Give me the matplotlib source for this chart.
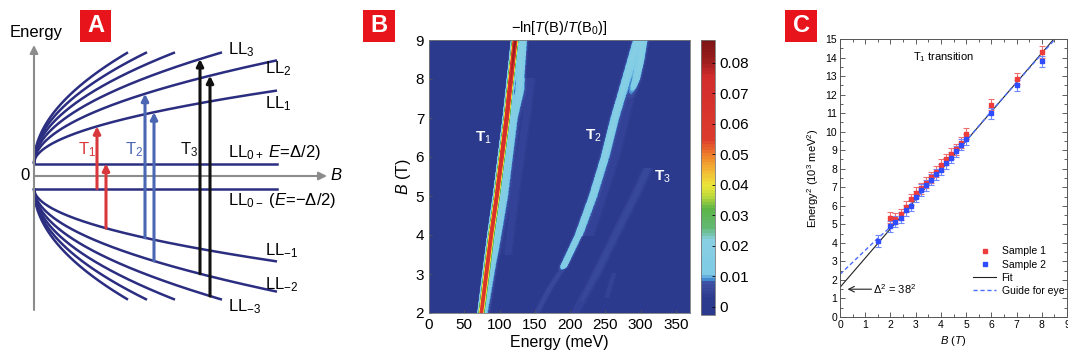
import numpy as np
import matplotlib
matplotlib.use("Agg")
import matplotlib.pyplot as plt
from matplotlib.colors import LinearSegmentedColormap, Normalize
from matplotlib.patches import Rectangle
from matplotlib.lines import Line2D

plt.rcParams['font.family'] = ['Liberation Sans', 'DejaVu Sans']
plt.rcParams['mathtext.fontset'] = 'custom'
plt.rcParams['mathtext.rm'] = 'Liberation Sans'
plt.rcParams['mathtext.it'] = 'Liberation Sans:italic'
plt.rcParams['mathtext.bf'] = 'Liberation Sans:bold'

W, H = 1068, 361

# ---------------- Panel A data (schematic, pixel-like units) ----------------
ll_index = [1, 2, 3, 4, 5, 6]
ll_B_end = [243, 243, 188, 141, 113, 94]
ll_half_gap = 12.5
ll_scale = 4.68
ll0_B_end = 243
# transitions: (B, lower (n, sign), upper (n, sign), colour)
trans_B = [63, 72, 111, 120, 166, 176]
trans_low = [(0, -1), (1, -1), (1, -1), (2, -1), (2, -1), (3, -1)]
trans_up = [(1, 1), (0, 1), (2, 1), (1, 1), (3, 1), (2, 1)]
trans_col = ['#d8383c', '#d8383c', '#4b67b3', '#4b67b3', '#111111', '#111111']

# ---------------- Panel B data ----------------
t1_B = [2, 3, 4, 5, 6, 7, 8, 9]
t1_E = [74, 81, 88, 96, 103, 110, 116, 122]
t1_amp = [0.056, 0.060, 0.063, 0.066, 0.070, 0.073, 0.077, 0.082]
sh1_B = [2, 3, 4, 5, 6, 7, 7.7, 8.5, 9]
sh1_E = [80, 88, 97, 106, 113, 120, 128, 131, 133]
sh1_amp = [0.010, 0.013, 0.015, 0.015, 0.015, 0.015, 0.017, 0.018, 0.018]
f1_B = [3.5, 5, 7, 8]
f1_E = [112, 122, 138, 145]
f1_amp = [0.005, 0.005, 0.005, 0.005]
t2_B = [2.0, 2.6, 3.1, 3.2, 4, 5, 6, 7, 8, 9]
t2_E = [153, 170, 188, 191, 212, 232, 249, 263, 279, 295]
t2_amp = [0.006, 0.006, 0.006, 0.015, 0.016, 0.016, 0.017, 0.017, 0.017, 0.017]
t2b_B = [7.5, 8, 8.5, 9]
t2b_E = [284, 294, 300, 304]
t2b_amp = [0.0, 0.012, 0.013, 0.013]
f2_B = [4, 6, 8, 9]
f2_E = [228, 264, 292, 305]
f2_amp = [0.005, 0.005, 0.005, 0.005]
t3_B = [2.0, 3.0, 4.1, 5.0, 5.7]
t3_E = [207, 237, 267, 292, 310]
t3_amp = [0.005, 0.006, 0.006, 0.006, 0.006]
t3b_B = [2.4, 3.0]
t3b_E = [252, 262]
t3b_amp = [0.005, 0.005]
cbar_ticks = [0, 0.01, 0.02, 0.03, 0.04, 0.05, 0.06, 0.07, 0.08]
cbar_labels = ['0', '0.01', '0.02', '0.03', '0.04', '0.05', '0.06', '0.07', '0.08']

# ---------------- Panel C data ----------------
s1_B = [2.0, 2.2, 2.4, 2.6, 2.8, 3.0, 3.2, 3.4, 3.6, 3.8, 4.0, 4.2, 4.4, 4.6, 4.8, 5.0, 6.0, 7.0, 8.0]
s1_E2 = [5.35, 5.3, 5.55, 5.95, 6.35, 6.7, 6.95, 7.25, 7.55, 7.85, 8.2, 8.5, 8.8, 9.05, 9.4, 9.9, 11.45, 12.85, 14.3]
s1_err = [0.3] * len(s1_B)
s2_B = [1.5, 2.0, 2.2, 2.4, 2.6, 2.8, 3.0, 3.2, 3.4, 3.6, 3.8, 4.0, 4.2, 4.4, 4.6, 4.8, 5.0, 6.0, 7.0, 8.0]
s2_E2 = [4.1, 4.9, 5.15, 5.35, 5.75, 6.0, 6.5, 6.85, 7.1, 7.4, 7.7, 7.95, 8.3, 8.6, 8.95, 9.3, 9.6, 11.0, 12.5, 13.8]
s2_err = [0.3] * len(s2_B)
fit_intercept = 1.6
fit_slope = 1.58
fit_B = [0, 9]
guide_B = [0, 0.5, 1.0, 1.5, 2.0, 3, 4, 5, 6, 7, 8, 8.6]
guide_E2 = [2.3, 2.95, 3.6, 4.25, 4.85, 6.4, 7.95, 9.5, 11.1, 12.65, 14.2, 15.1]

fig = plt.figure(figsize=(W / 100, H / 100), dpi=100)


def px_axes(x0, y0, x1, y1, **kw):
    return fig.add_axes([x0 / W, 1 - y1 / H, (x1 - x0) / W, (y1 - y0) / H], **kw)


def label_box(x0, y0, x1, y1, letter):
    fig.add_artist(Rectangle((x0 / W, 1 - y1 / H), (x1 - x0) / W, (y1 - y0) / H,
                             transform=fig.transFigure, color='#e8141c', lw=0))
    fig.text((x0 + x1) / 2 / W, 1 - (y0 + y1) / 2 / H, letter, color='white',
             fontsize=17, fontweight='bold', ha='center', va='center')


# ================= Panel A =================
axA = px_axes(0, 0, 360, 361)
axA.set_xlim(-34, 326)
axA.set_ylim(-185, 176)
axA.axis('off')
navy = '#2b2e80'
grey = '#8c8c8c'


def level_E(n, sign, B):
    return sign * (ll_half_gap + ll_scale * np.sqrt(n * np.asarray(B, dtype=float)))


for n, bend in zip(ll_index, ll_B_end):
    Bs = np.linspace(0, bend, 200)
    axA.plot(Bs, level_E(n, 1, Bs), color=navy, lw=1.8, solid_capstyle='butt')
    axA.plot(Bs, level_E(n, -1, Bs), color=navy, lw=1.8, solid_capstyle='butt')
for s in (1, -1):
    axA.plot([0, ll0_B_end], [s * ll_half_gap, s * ll_half_gap], color=navy, lw=1.8)

axA.annotate('', xy=(0, 131), xytext=(0, -134),
             arrowprops=dict(arrowstyle='-|>', color=grey, lw=1.5, mutation_scale=12,
                             shrinkA=0, shrinkB=0))
axA.annotate('', xy=(293, 0), xytext=(0, 0),
             arrowprops=dict(arrowstyle='-|>', color=grey, lw=1.5, mutation_scale=12,
                             shrinkA=0, shrinkB=0))
for B, lo, up, c in zip(trans_B, trans_low, trans_up, trans_col):
    e0 = float(level_E(lo[0], lo[1], B))
    e1 = float(level_E(up[0], up[1], B))
    axA.annotate('', xy=(B, e1), xytext=(B, e0),
                 arrowprops=dict(arrowstyle='-|>', color=c, lw=2.2, mutation_scale=10,
                                 shrinkA=0, shrinkB=0))

fsA = 12
axA.text(2, 143, 'Energy', fontsize=fsA, ha='center', va='center')
axA.text(-9, 0, '0', fontsize=fsA, ha='center', va='center')
axA.text(296, 0, 'B', fontsize=fsA, ha='left', va='center', style='italic')
axA.text(44, 26, 'T$_1$', color='#d8383c', fontsize=fsA, ha='left', va='center')
axA.text(91, 26, 'T$_2$', color='#4b67b3', fontsize=fsA, ha='left', va='center')
axA.text(146, 26, 'T$_3$', color='#111111', fontsize=fsA, ha='left', va='center')
axA.text(194, 126, 'LL$_3$', fontsize=fsA, ha='left', va='center')
axA.text(231, 107, 'LL$_2$', fontsize=fsA, ha='left', va='center')
axA.text(231, 72, 'LL$_1$', fontsize=fsA, ha='left', va='center')
axA.text(194, 24, 'LL$_{0+}$ $E$=Δ/2)', fontsize=fsA, ha='left', va='center')
axA.text(194, -24, 'LL$_{0-}$ ($E$=−Δ/2)', fontsize=fsA, ha='left', va='center')
axA.text(231, -75, 'LL$_{-1}$', fontsize=fsA, ha='left', va='center')
axA.text(231, -109, 'LL$_{-2}$', fontsize=fsA, ha='left', va='center')
axA.text(194, -131, 'LL$_{-3}$', fontsize=fsA, ha='left', va='center')
label_box(80, 10, 111, 42, 'A')

# ================= Panel B =================
axB = px_axes(429, 40, 690, 313)
Eg = np.linspace(0, 370, 741)
Bg = np.linspace(2, 9, 281)
EE, BB = np.meshgrid(Eg, Bg)


def ridge(tb, te, ta, sigma):
    tb = np.asarray(tb, float)
    c = np.interp(BB, tb, te)
    a = np.interp(BB, tb, ta)
    a = np.where((BB >= tb.min()) & (BB <= tb.max()), a, 0.0)
    return a * np.exp(-(EE - c) ** 2 / (2 * sigma ** 2))


Z = (ridge(t1_B, t1_E, t1_amp, 2.6) + ridge(sh1_B, sh1_E, sh1_amp, 4.5)
     + ridge(f1_B, f1_E, f1_amp, 7.0) + ridge(t2_B, t2_E, t2_amp, 4.2)
     + ridge(t2b_B, t2b_E, t2b_amp, 3.5) + ridge(f2_B, f2_E, f2_amp, 8.0)
     + ridge(t3_B, t3_E, t3_amp, 7.0) + ridge(t3b_B, t3b_E, t3b_amp, 4.0))

vmin, vmax = -0.0027, 0.0875
stops = [(-0.0027, '#2c3a8e'), (0.003, '#2c3a8e'), (0.0075, '#3d4fa2'),
         (0.0085, '#3f86d0'), (0.0105, '#7fcbe6'), (0.022, '#88cfe2'),
         (0.026, '#63b870'), (0.032, '#5db548'), (0.036, '#b8d83a'),
         (0.040, '#ece53a'), (0.045, '#f3b233'), (0.050, '#ee7d2c'),
         (0.055, '#dc3a2d'), (0.076, '#d22c2c'), (0.080, '#a01e1e'),
         (0.0875, '#7c1515')]
cmap = LinearSegmentedColormap.from_list(
    'hm', [((v - vmin) / (vmax - vmin), c) for v, c in stops])
levels = np.linspace(vmin, vmax, 91)
cf = axB.contourf(Eg, Bg, Z, levels=levels, cmap=cmap,
                  norm=Normalize(vmin, vmax), extend='neither')
axB.set_xlim(0, 370)
axB.set_ylim(2, 9)
axB.set_xticks([0, 50, 100, 150, 200, 250, 300, 350])
axB.set_yticks([2, 3, 4, 5, 6, 7, 8, 9])
axB.tick_params(labelsize=11, direction='in', length=2.5, width=0.6, color='#555555')
axB.set_xlabel('Energy (meV)', fontsize=11.5, labelpad=2)
axB.set_ylabel('$B$ (T)', fontsize=11.5, labelpad=2)
axB.set_title(r'$-$ln[$T$(B)/$T$(B$_0$)]', fontsize=10.5, pad=6)
for sp in axB.spines.values():
    sp.set_linewidth(0.6)
    sp.set_color('#777777')
axB.text(77, 6.5, 'T$_1$', color='white', fontsize=11, fontweight='bold', ha='center', va='center')
axB.text(233, 6.55, 'T$_2$', color='white', fontsize=11, fontweight='bold', ha='center', va='center')
axB.text(331, 5.5, 'T$_3$', color='white', fontsize=11, fontweight='bold', ha='center', va='center')
label_box(363, 10, 395, 42, 'B')

cax = px_axes(701, 40, 715, 315)
cb = fig.colorbar(cf, cax=cax, ticks=cbar_ticks)
cb.ax.set_yticklabels(cbar_labels)
cb.ax.tick_params(labelsize=11, direction='in', length=2, width=0.6)
cb.outline.set_linewidth(0.6)
cb.outline.set_edgecolor('#777777')

# ================= Panel C =================
axC = px_axes(840, 39, 1067, 317)
red = '#ee3b3b'
blue = '#2f4cff'
axC.plot(fit_B, [fit_intercept + fit_slope * b for b in fit_B], color='#222222', lw=0.8, zorder=2)
axC.plot(guide_B, guide_E2, color='#4a6cff', lw=1.0, ls=(0, (3, 2)), zorder=2)
axC.errorbar(s1_B, s1_E2, yerr=s1_err, fmt='s', ms=2.2, color=red, ecolor='#f07070',
             elinewidth=0.8, capsize=2, capthick=0.8, zorder=3)
axC.errorbar(s2_B, s2_E2, yerr=s2_err, fmt='s', ms=2.2, color=blue, ecolor='#7088ff',
             elinewidth=0.8, capsize=2, capthick=0.8, zorder=3)
axC.set_xlim(0, 9)
axC.set_ylim(0, 15)
axC.set_xticks(range(0, 10))
axC.set_yticks(range(0, 16))
axC.set_xticks(np.arange(0.5, 9, 1), minor=True)
axC.set_yticks(np.arange(0.5, 15, 1), minor=True)
axC.tick_params(which='both', direction='in', top=True, right=True, labelsize=7.5,
                width=0.6, color='#444444', pad=2)
axC.tick_params(which='major', length=3.5)
axC.tick_params(which='minor', length=2)
for sp in axC.spines.values():
    sp.set_linewidth(0.7)
    sp.set_color('#555555')
axC.set_xlabel('$B$ ($T$)', fontsize=8, labelpad=3)
axC.set_ylabel('Energy$^2$ (10$^3$ meV$^2$)', fontsize=8, labelpad=3)
axC.text(4.1, 14.05, 'T$_1$ transition', fontsize=8, ha='center', va='center')
axC.annotate('', xy=(0.3, 1.5), xytext=(1.25, 1.5),
             arrowprops=dict(arrowstyle='->', lw=0.8, color='#222222', shrinkA=0, shrinkB=0))
axC.text(1.3, 1.5, r'$\Delta^2$ = 38$^2$', fontsize=8, ha='left', va='center')
handles = [Line2D([], [], ls='none', marker='s', ms=2.5, color=red),
           Line2D([], [], ls='none', marker='s', ms=2.5, color=blue),
           Line2D([], [], color='#222222', lw=0.8),
           Line2D([], [], color='#4a6cff', lw=1.0, ls=(0, (3, 2)))]
axC.legend(handles, ['Sample 1', 'Sample 2', 'Fit', 'Guide for eye'], loc='lower right',
           bbox_to_anchor=(1.02, 0.05), frameon=False, fontsize=7.5, handlelength=2.2,
           labelspacing=0.3, handletextpad=0.5, borderpad=0.2)
label_box(785, 10, 817, 42, 'C')

fig.savefig('out.png', dpi=100)
